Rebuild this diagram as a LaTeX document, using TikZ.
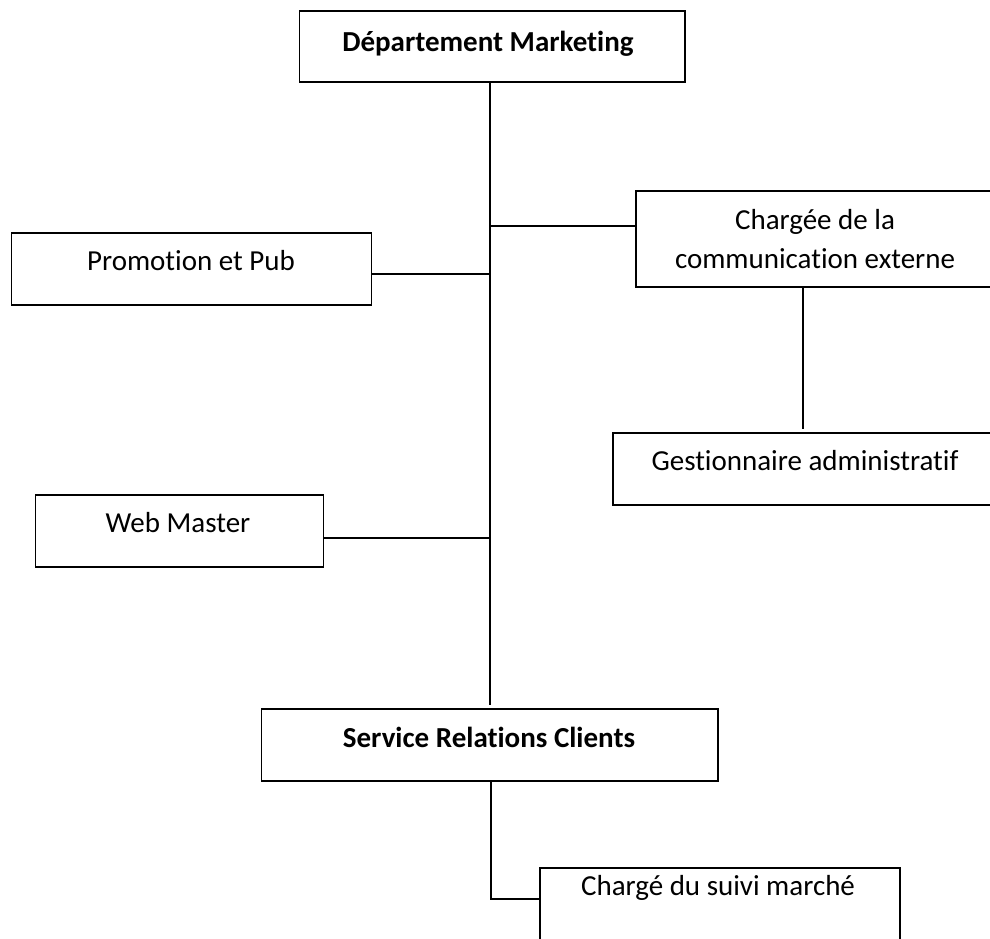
\documentclass[tikz,border=0pt]{standalone}
\usepackage{fontspec}
\setmainfont{Carlito}[Ligatures={NoCommon}]
\begin{document}
\begin{tikzpicture}[x=0.02cm,y=-0.02cm,
  box/.style={draw=black,line width=0.85pt,rectangle,inner sep=0pt,anchor=north west},
  label/.style={font=\fontsize{16.5}{23}\selectfont,anchor=base,inner sep=0pt,align=center},
  link/.style={draw=black,line width=0.7pt}]
\useasboundingbox (0,0) rectangle (990,938);
\clip (0,0) rectangle (990,938);

% boxes
\node[box,minimum width=385*0.02cm,minimum height=71*0.02cm] (dept) at (299,10) {};
\node[box,minimum width=360*0.02cm,minimum height=72*0.02cm] (promo) at (11,232) {};
\node[box,minimum width=360*0.02cm,minimum height=96*0.02cm] (comext) at (635,190) {};
\node[box,minimum width=385*0.02cm,minimum height=72*0.02cm] (gest) at (612,432) {};
\node[box,minimum width=288*0.02cm,minimum height=72*0.02cm] (web) at (35,494) {};
\node[box,minimum width=456*0.02cm,minimum height=72*0.02cm] (src) at (261,708) {};
\node[box,minimum width=360*0.02cm,minimum height=90*0.02cm] (suivi) at (539,867) {};

% box texts
\node[label,font=\fontsize{16.5}{23}\selectfont\bfseries] (deptT) at (488,51) {Département Marketing};
\node[label] (promoT) at (191,270) {Promotion et Pub};
\node[label] (comextT1) at (815,229) {Chargée de la};
\node[label] (comextT2) at (815,268) {communication externe};
\node[label] (gestT) at (805,470) {Gestionnaire administratif};
\node[label] (webT) at (178,532) {Web Master};
\node[label,font=\fontsize{16.5}{23}\selectfont\bfseries] (srcT) at (489,747) {Service Relations Clients};
\node[label] (suiviT) at (718,895) {Chargé du suivi marché};

% trunk and branch points
\coordinate (trunkTop) at (490,81);
\coordinate (trunkEnd) at (490,705);
\coordinate (jComext) at (490,226);
\coordinate (jPromo) at (490,274);
\coordinate (jWeb) at (490,538);
\coordinate (gestTop) at (803,429);
\coordinate (srcOut) at (491,780);
\coordinate (suiviCorner) at (491,899);

% connectors
\draw[link] (trunkTop) -- (trunkEnd);
\draw[link] (jComext) -- (jComext -| comext.west);
\draw[link] (jPromo -| promo.east) -- (jPromo);
\draw[link] (jWeb -| web.east) -- (jWeb);
\draw[link] (comext.south -| gestTop) -- (gestTop);
\draw[link] (srcOut) -- (suiviCorner) -- (suiviCorner -| suivi.west);
\end{tikzpicture}
\end{document}
